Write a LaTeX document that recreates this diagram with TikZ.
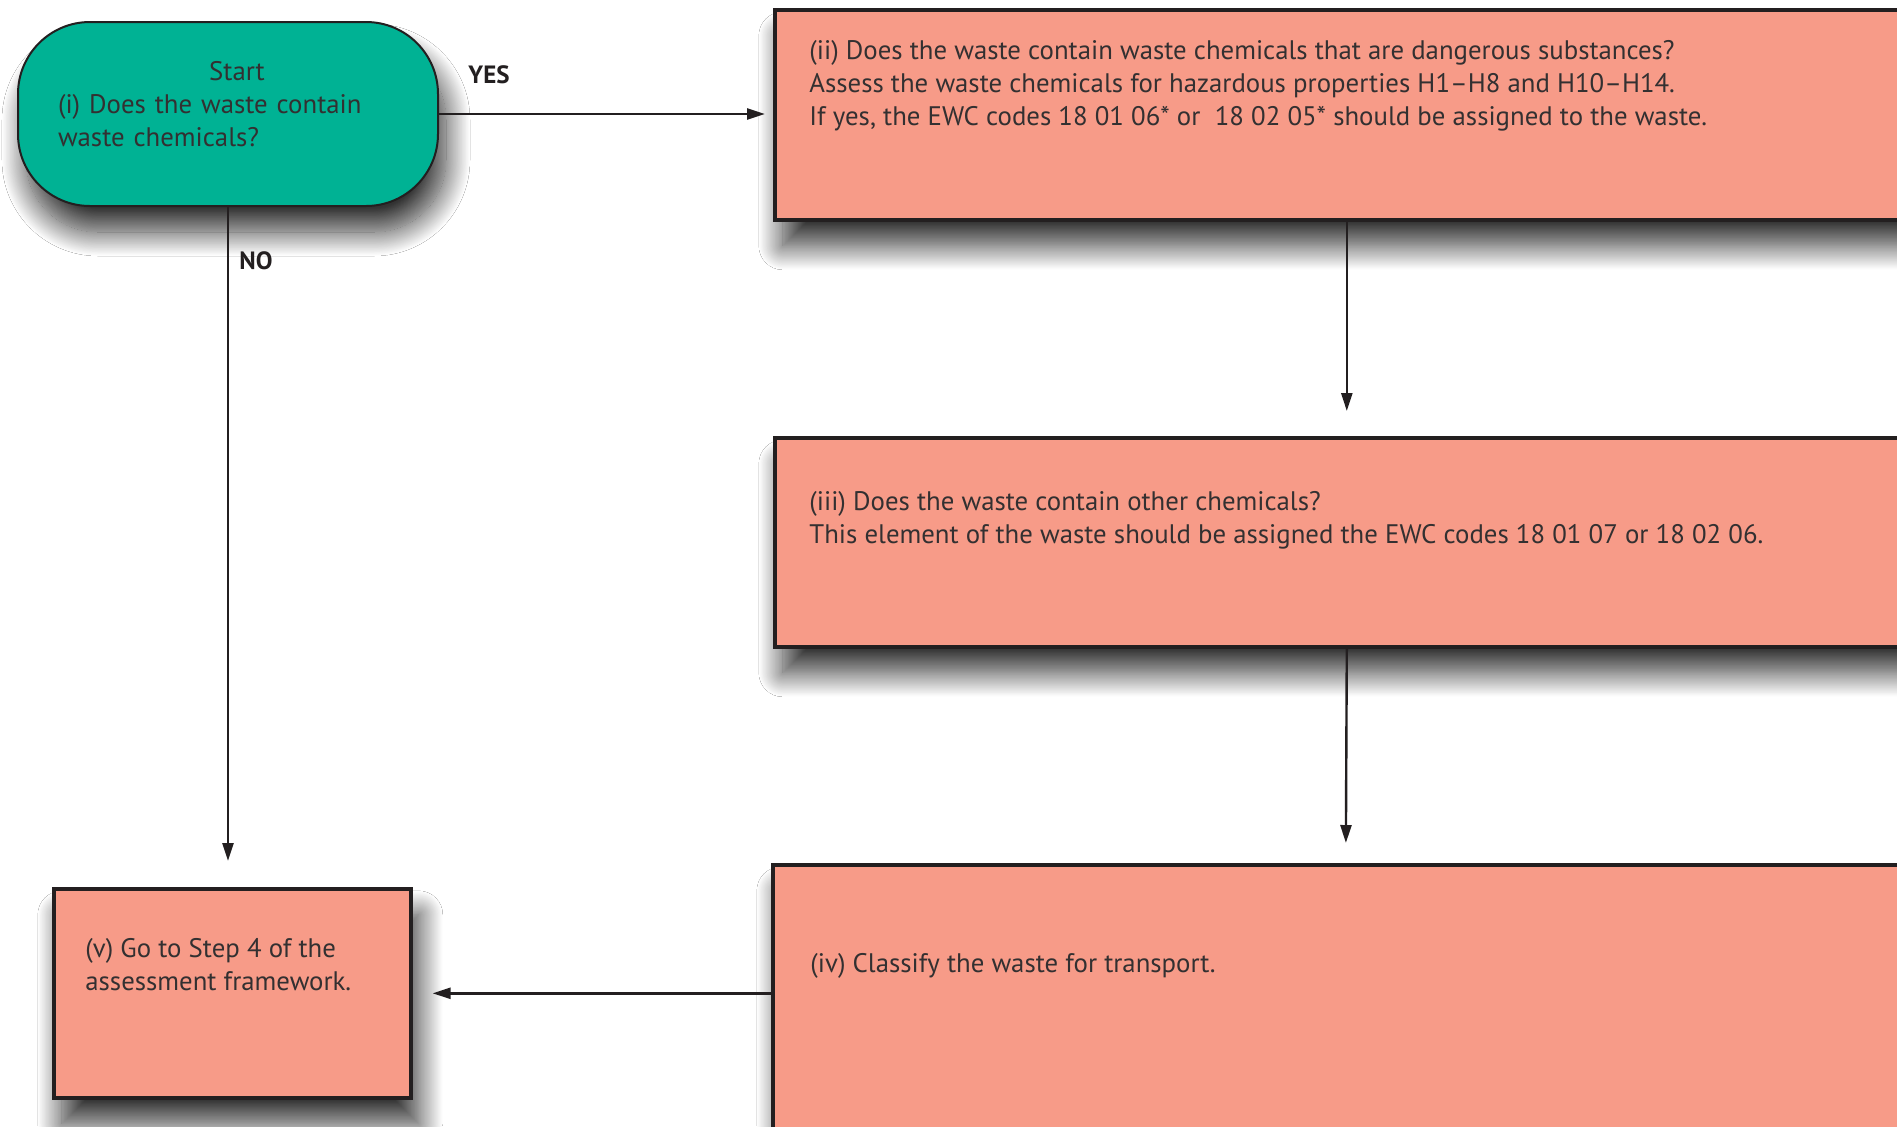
\documentclass[tikz,border=0pt]{standalone}
\usepackage{fontspec}
\setmainfont{PT Sans}
\usepackage{xcolor}
\usepackage{tikz}
\usetikzlibrary{arrows.meta}
\usetikzlibrary{shadows.blur}
\usetikzlibrary{positioning}

\definecolor{startgreen}{RGB}{0,178,148}
\definecolor{boxsalmon}{RGB}{247,155,136}
\definecolor{edgegray}{RGB}{35,31,32}
\definecolor{textgray}{RGB}{51,48,49}

\begin{document}
\begin{tikzpicture}[x=0.5pt,y=-0.5pt,
    softshadow/.style={blur shadow={shadow xshift=4pt,shadow yshift=-13pt,
      shadow blur radius=12pt,shadow blur steps=30,shadow opacity=80}},
    stepbox/.style={draw=edgegray,line width=1.8pt,fill=boxsalmon,anchor=north west,softshadow},
    startbox/.style={draw=edgegray,line width=1pt,fill=startgreen,rounded corners=36pt,
      minimum width=210pt,minimum height=92pt,inner sep=0pt,
      font=\fontsize{13.4}{16.4}\selectfont,text=textgray,softshadow},
    steptext/.style={anchor=north west,inner sep=0pt,align=left,
      font=\fontsize{13.4}{16.4}\selectfont,text=textgray},
    answer/.style={font=\fontsize{12.5}{14}\selectfont\bfseries,text=edgegray},
    flow/.style={draw=edgegray,line width=1.2pt,-{Triangle[length=9pt,width=5.5pt]}}]
  \useasboundingbox (0,0) rectangle (1897,1126);
  \clip (0,0) rectangle (1897,1126);
  \fill[white] (0,0) rectangle (1897,1126);

  % start terminal
  \node[startbox,text width=170pt,align=left] (start) at (228,114)
    {\hfill\hspace{9pt}Start\hfill\null\\(i) Does the waste contain\\waste chemicals?\\[-6.4pt]\null};

  % step boxes
  \node[stepbox,minimum width=572pt,minimum height=105pt] (ii) at (773,8) {};
  \node[stepbox,minimum width=572pt,minimum height=104.5pt] (iii) at (773,436) {};
  \node[stepbox,minimum width=573pt,minimum height=150pt] (iv) at (771,863) {};
  \node[stepbox,minimum width=178.5pt,minimum height=104.5pt] (v) at (52,887) {};

  % texts inside the boxes
  \node[steptext] (iitext) at ([shift={(18pt,-16pt)}]ii.north west)
    {(ii) Does the waste contain waste chemicals that are dangerous substances?\\
     Assess the waste chemicals for hazardous properties H1--H8 and H10--H14.\\
     If yes, the EWC codes 18 01 06* or \ 18 02 05* should be assigned to the waste.};
  \node[steptext] (iiitext) at ([shift={(18pt,-27.5pt)}]iii.north west)
    {(iii) Does the waste contain other chemicals?\\
     This element of the waste should be assigned the EWC codes 18 01 07 or 18 02 06.};
  \node[steptext] (ivtext) at ([shift={(19.5pt,-45pt)}]iv.north west)
    {(iv) Classify the waste for transport.};
  \node[steptext] (vtext) at ([shift={(16.5pt,-25.5pt)}]v.north west)
    {(v) Go to Step 4 of the\\assessment framework.};

  % connectors
  \draw[flow,shorten >=4pt] (start.east) -- (start.east -| ii.west);
  \draw[flow,shorten >=12.5pt] (ii.south) -- (iii.north);
  \draw[flow,shorten >=10pt] (iii.south) -- (iv.north);
  \draw[flow,shorten >=13pt] (start.south) -- (start.south |- v.north);
  \draw[flow,shorten >=10pt] (iv.west |- v.east) -- (v.east);

  \node[answer] (yes) at (489,75) {YES};
  \node[answer] (no) at (256,261) {NO};
\end{tikzpicture}
\end{document}
